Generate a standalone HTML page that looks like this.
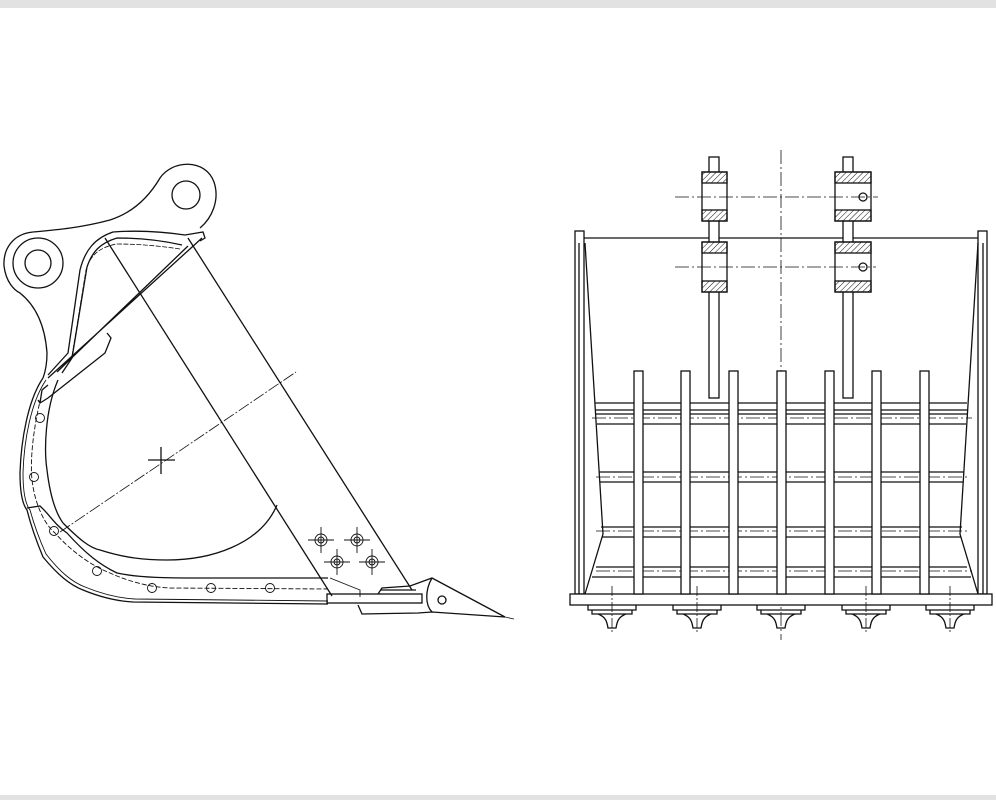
<!DOCTYPE html>
<html><head><meta charset="utf-8"><style>
html,body{margin:0;padding:0;background:#fff;}
.top{position:absolute;left:0;top:0;width:996px;height:8px;background:#e2e2e2;}
.bot{position:absolute;left:0;top:795px;width:996px;height:5px;background:#e2e2e2;}
svg{position:absolute;left:0;top:0;}
</style></head><body>
<div class="top"></div><div class="bot"></div>
<svg width="996" height="800" viewBox="0 0 996 800" fill="none" stroke="#111" stroke-width="1.3">
<defs>
<pattern id="h" width="4" height="4" patternUnits="userSpaceOnUse" patternTransform="rotate(45)">
<line x1="0" y1="0" x2="0" y2="4" stroke="#111" stroke-width="1"/></pattern>
</defs>
<!-- LEFT VIEW -->
<g>
<circle cx="186" cy="195" r="14"/>
<circle cx="38" cy="263" r="25"/><circle cx="38" cy="263" r="13"/>
<!-- boss outline -->
<path d="M33,232 C55,230 80,228 110,220 C135,212 150,195 160,178 C172,160 205,158 214,182 C220,200 212,218 200,228"/>
<path d="M33,232 C12,234 3,250 4,266 C6,282 14,290 20,293 C35,305 45,325 47,353 C47,362 46,370 43,378"/>
<!-- outer bowl (double line) -->
<path d="M43,378 C28,400 21,440 20,473 C20,495 23,505 27,510 C32,530 38,545 43,557 C58,575 70,585 83,590 C100,597 115,601 133,602 L328,604"/>
<path d="M46,380 C31,402 24,440 23,473 C23,495 26,505 30,510 C35,528 41,543 46,554 C60,572 72,582 85,587 C102,594 117,598 135,599 L328,601" stroke-width="0.9"/>
<!-- back plate -->
<path d="M48,375 L68,353 L80,270 C85,250 95,238 113,232 C140,230 165,232 185,235 L203,232 L205,238 L200,241"/>
<path d="M62,373 L72,358 L87,267 C92,252 100,243 117,238 C140,238 160,240 182,245"/>
<path d="M72,356 L86,270 C90,256 98,248 116,244 C140,244 160,246 180,249" stroke-width="0.8" stroke-dasharray="5,1.5"/>
<!-- strut -->
<path d="M202,238 L48,378 M188,246 L57,372"/>
<path d="M107,333 L111,338 L105,353 L48,398 L40,403 L38,400"/>
<path d="M40,403 L42,390 L48,385"/>
<!-- liner -->
<path d="M58,380 C45,410 44,450 47,470 C50,495 55,512 63,523"/>
<path d="M27,508 L40,506 C50,515 55,525 67,533 C85,553 100,565 117,573 C140,578 170,578 200,578 L328,578"/>
<path d="M41,397 C33,430 30,460 32,480 C35,505 45,525 55,533 C70,550 90,565 110,573 C130,582 150,587 170,588 L328,589" stroke-dasharray="5,2" stroke-width="0.9"/>
<path d="M330,578 L360,590 L360,597" stroke-width="0.9"/>
<!-- bowl bottom -->
<path d="M63,523 C80,540 90,548 100,550 C125,558 145,560 167,560 C210,560 260,545 277,505"/>
<line x1="105" y1="238" x2="332" y2="596"/>
<line x1="188" y1="238" x2="412" y2="590"/>
<line x1="60" y1="532" x2="296" y2="372" stroke-width="0.8" stroke-dasharray="12,2,2,2"/>
<line x1="148" y1="460" x2="175" y2="460"/><line x1="161" y1="447" x2="161" y2="474"/>
<g stroke-width="0.9">
<circle cx="40" cy="418" r="4.5"/><circle cx="34" cy="477" r="4.5"/><circle cx="54" cy="531" r="4.5"/>
<circle cx="97" cy="571" r="4.5"/><circle cx="152" cy="588" r="4.5"/><circle cx="211" cy="588" r="4.5"/><circle cx="270" cy="588" r="4.5"/>
</g>
<g stroke-width="0.9">
<circle cx="321" cy="540" r="6"/><circle cx="321" cy="540" r="3"/><path d="M308,540h26M321,527v26"/>
<circle cx="357" cy="540" r="6"/><circle cx="357" cy="540" r="3"/><path d="M344,540h26M357,527v26"/>
<circle cx="337" cy="562" r="6"/><circle cx="337" cy="562" r="3"/><path d="M324,562h26M337,549v26"/>
<circle cx="372" cy="562" r="6"/><circle cx="372" cy="562" r="3"/><path d="M359,562h26M372,549v26"/>
</g>
<rect x="327" y="594" width="95" height="9"/>
<path d="M378,594 L382,588 L410,586 L432,578 L505,617 L432,612 L418,613 L362,614 L358,605"/>
<path d="M432,578 C425,590 425,605 432,612 M380,590 L416,590"/>
<circle cx="442" cy="600" r="4"/>
<line x1="505" y1="617" x2="514" y2="619" stroke-width="0.8"/>
</g>
<!-- RIGHT VIEW -->
<g>
<line x1="781" y1="150" x2="781" y2="640" stroke-width="0.8" stroke-dasharray="14,3,2,3"/>
<rect x="575" y="231" width="9" height="363"/><line x1="579" y1="243" x2="579" y2="594"/>
<rect x="978" y="231" width="9" height="363"/><line x1="983" y1="243" x2="983" y2="594"/>
<line x1="584" y1="238" x2="978" y2="238"/>
<path d="M585,243 L603,534 L585,594 M978,243 L960,534 L978,594"/>
<rect x="570" y="594" width="422" height="11" fill="#fff"/>
<path d="M595,403H967M596,410H967M596,414H967M597,424H966M599,472H964M600,482H963M601,527H962M602,537H961M596,567H967M592,577H971"/>
<g stroke-width="0.8" stroke-dasharray="14,3,2,3">
<path d="M592,418H972M596,477H970M596,531H970M596,571H972"/>
</g>
<g fill="#fff">
<rect x="634" y="371" width="9" height="223"/><rect x="681" y="371" width="9" height="223"/><rect x="729" y="371" width="9" height="223"/>
<rect x="777" y="371" width="9" height="223"/><rect x="825" y="371" width="9" height="223"/><rect x="872" y="371" width="9" height="223"/><rect x="920" y="371" width="9" height="223"/>
<rect x="709" y="157" width="10" height="241"/><rect x="843" y="157" width="10" height="241"/>
<rect x="702" y="172" width="25" height="49"/><rect x="702" y="242" width="25" height="50"/>
<rect x="835" y="172" width="36" height="49"/><rect x="835" y="242" width="36" height="50"/>
</g>
<g fill="url(#h)">
<rect x="702" y="172" width="25" height="11"/><rect x="702" y="210" width="25" height="11"/>
<rect x="702" y="242" width="25" height="11"/><rect x="702" y="281" width="25" height="11"/>
<rect x="835" y="172" width="36" height="11"/><rect x="835" y="210" width="36" height="11"/>
<rect x="835" y="242" width="36" height="11"/><rect x="835" y="281" width="36" height="11"/>
</g>
<circle cx="863" cy="197" r="4"/><circle cx="863" cy="267" r="4"/>
<g stroke-width="0.8" stroke-dasharray="14,3,2,3"><path d="M675,197H878M675,267H876"/></g>
<g id="t">
<path d="M588,605 v5 h48 v-5 M592,610 v4 h40 v-4 M598,614 c8,3 9,8 10,14 h8 c1,-6 2,-11 10,-14"/>
</g>
<use href="#t" x="85"/><use href="#t" x="169"/><use href="#t" x="254"/><use href="#t" x="338"/>
<g stroke-width="0.8" stroke-dasharray="10,2,2,2"><path d="M612,586V632M697,586V632M866,586V632M950,586V632"/></g>
</g>
</svg>
</body></html>
